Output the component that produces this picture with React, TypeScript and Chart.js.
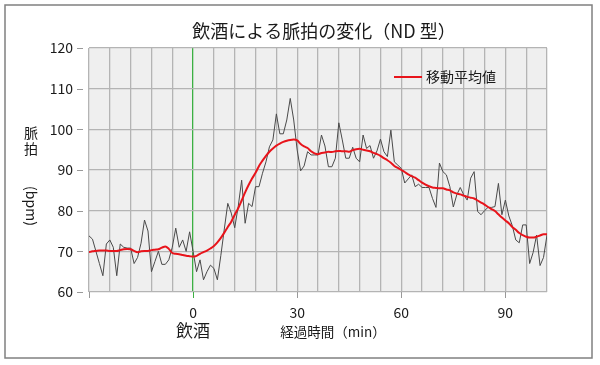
import { useEffect, useRef } from 'react';
import { Chart, registerables } from 'chart.js';

Chart.register(...registerables);

const FONT = '"Noto Sans CJK JP", "Noto Sans", sans-serif';

const TITLE = '飲酒による脈拍の変化（ND 型）';
const X_TITLE = '経過時間（min）';
const X_EVENT = '飲酒';
const Y_TITLE_CHARS = ['脈', '拍'];
const Y_UNIT = '(bpm)';
const LEGEND_LABEL = '移動平均値';

const X_LABELED_TICKS = [0, 30, 60, 90];
const Y_TICKS = [60, 70, 80, 90, 100, 110, 120];

const TIME = [
  -30, -29, -28, -27, -26, -25, -24, -23, -22, -21,
  -20, -19, -18, -17, -16, -15, -14, -13, -12, -11,
  -10, -9, -8, -7, -6, -5, -4, -3, -2, -1,
  0, 1, 2, 3, 4, 5, 6, 7, 8, 9,
  10, 11, 12, 13, 14, 15, 16, 17, 18, 19,
  20, 21, 22, 23, 24, 25, 26, 27, 28, 29,
  30, 31, 32, 33, 34, 35, 36, 37, 38, 39,
  40, 41, 42, 43, 44, 45, 46, 47, 48, 49,
  50, 51, 52, 53, 54, 55, 56, 57, 58, 59,
  60, 61, 62, 63, 64, 65, 66, 67, 68, 69,
  70, 71, 72, 73, 74, 75, 76, 77, 78, 79,
  80, 81, 82, 83, 84, 85, 86, 87, 88, 89,
  90, 91, 92, 93, 94, 95, 96, 97, 98, 99,
  100, 101, 102,
];

const HEART_RATE = [
  73.8, 73, 70, 67, 64, 71.8, 72.8, 71, 64, 71.8,
  71, 70.8, 70.8, 67, 68.5, 72, 77.7, 75, 65, 67.5,
  70, 66.8, 66.8, 67.9, 71, 75.7, 71, 72.8, 70, 74.8,
  70, 65, 67.9, 63, 65, 66.6, 65.8, 63, 69, 75.5,
  81.8, 79.4, 75.8, 81, 87.5, 76.9, 81.8, 81, 85.9, 85.9,
  89.2, 92, 95.7, 97.4, 103.8, 98.9, 98.9, 102.3, 107.6, 102.3,
  94.9, 89.8, 91, 94.5, 93.7, 93.7, 93.7, 98.6, 95.9, 90.8,
  90.8, 92.9, 101.6, 97.4, 92.9, 92.9, 95.6, 92.9, 92, 98.6,
  95.3, 96, 92.9, 94.7, 97.6, 94.5, 93.3, 99.8, 92, 91.2,
  90.4, 86.8, 87.8, 88.8, 85.9, 86.5, 85.7, 85.7, 85.7, 83,
  80.8, 91.7, 89.6, 88.8, 85.9, 80.9, 83.9, 85.7, 83.9, 82.6,
  88, 89.6, 79.8, 79, 80, 80.8, 80.8, 81, 86.7, 79,
  82.6, 78.7, 76.3, 72.8, 72.1, 76.5, 76.5, 67, 69.7, 74,
  66.5, 68.5, 74,
];

const MOVING_AVG = [
  69.8, 70, 70.1, 70.2, 70.2, 70.2, 70.1, 70.1, 70.1, 70.3,
  70.5, 70.6, 70.5, 70.1, 69.8, 70, 70.1, 70.1, 70.3, 70.4,
  70.5, 70.9, 71.2, 70.6, 69.6, 69.4, 69.3, 69.1, 68.9, 68.8,
  68.7, 68.9, 69.4, 69.8, 70.2, 70.7, 71.3, 72.2, 73.3, 74.6,
  76, 77.3, 79, 80.6, 82.5, 84.5, 86.3, 87.9, 89.3, 91,
  92.3, 93.5, 94.5, 95.3, 96, 96.5, 96.9, 97.2, 97.4, 97.5,
  97.3, 96.4, 95.8, 95.4, 94.6, 94.1, 93.9, 94.2, 94.3, 94.5,
  94.4, 94.6, 94.7, 94.6, 94.6, 94.5, 94.9, 95.1, 95.2, 95,
  94.8, 94.6, 94.2, 93.9, 93.5, 92.9, 92.4, 91.8, 91, 90.5,
  90, 89.5, 88.9, 88.5, 88.1, 87.5, 86.9, 86.4, 86, 85.7,
  85.6, 85.5, 85.5, 85.2, 85, 84.5, 84.2, 84, 83.7, 83.4,
  83.2, 83, 82.5, 82, 81.5, 80.9, 80.4, 79.9, 79.1, 78.3,
  77.6, 76.9, 76, 75.3, 74.5, 74, 73.6, 73.4, 73.4, 73.6,
  73.9, 74.2, 74.2,
];

const decorPlugin = {
  id: 'decor',
  beforeDraw(chart: any) {
    const { ctx, chartArea: a, width, height } = chart;
    ctx.save();
    ctx.fillStyle = '#ffffff';
    ctx.fillRect(0, 0, width, height);
    ctx.fillStyle = '#efefef';
    ctx.fillRect(a.left, a.top, a.right - a.left, a.bottom - a.top);
    ctx.restore();
  },
  afterDraw(chart: any) {
    const { ctx, chartArea: a } = chart;
    const xs = chart.scales.x;
    const ys = chart.scales.y;
    ctx.save();
    // y tick marks
    ctx.strokeStyle = '#999999';
    ctx.lineWidth = 1;
    Y_TICKS.forEach((v) => {
      const y = Math.round(ys.getPixelForValue(v)) + 0.5;
      ctx.beginPath();
      ctx.moveTo(a.left - 12, y);
      ctx.lineTo(a.left - 6, y);
      ctx.stroke();
    });
    // x tick marks
    [-30, 30, 60, 90].forEach((v) => {
      const x = Math.round(xs.getPixelForValue(v)) + 0.5;
      ctx.beginPath();
      ctx.moveTo(x, a.bottom);
      ctx.lineTo(x, a.bottom + 6);
      ctx.stroke();
    });
    ctx.strokeStyle = '#3cb043';
    const x0 = Math.round(xs.getPixelForValue(0)) + 0.5;
    ctx.beginPath();
    ctx.moveTo(x0, a.bottom);
    ctx.lineTo(x0, a.bottom + 6);
    ctx.stroke();

    // frame
    ctx.strokeStyle = '#808080';
    ctx.lineWidth = 1.5;
    ctx.strokeRect(5, 5, 587, 353);

    ctx.fillStyle = '#1a1a1a';
    ctx.textBaseline = 'middle';
    // title
    ctx.textAlign = 'center';
    ctx.font = `18px ${FONT}`;
    ctx.fillText(TITLE, (a.left + a.right) / 2 + 6, 31);

    // x labels
    ctx.font = `17px ${FONT}`;
    ctx.fillText(X_EVENT, xs.getPixelForValue(0), 331);
    ctx.font = `13.5px ${FONT}`;
    ctx.fillText(X_TITLE, 333, 332);

    // y labels
    ctx.font = `14px ${FONT}`;
    ctx.fillText(Y_TITLE_CHARS[0], 31, 133);
    ctx.fillText(Y_TITLE_CHARS[1], 31, 149);
    ctx.save();
    ctx.translate(31, 206);
    ctx.rotate(Math.PI / 2);
    ctx.fillText(Y_UNIT, 0, 0);
    ctx.restore();

    // legend
    ctx.strokeStyle = '#e8141b';
    ctx.lineWidth = 2;
    ctx.beginPath();
    ctx.moveTo(394, 77);
    ctx.lineTo(422, 77);
    ctx.stroke();
    ctx.textAlign = 'left';
    ctx.font = `14px ${FONT}`;
    ctx.fillText(LEGEND_LABEL, 426, 77);
    ctx.restore();
  },
};

export default function App() {
  const ref = useRef<HTMLCanvasElement>(null);
  useEffect(() => {
    document.body.style.margin = '0';
    const chart = new Chart(ref.current as HTMLCanvasElement, {
      type: 'line',
      data: {
        datasets: [
          {
            label: LEGEND_LABEL,
            data: TIME.map((t, i) => ({ x: t, y: MOVING_AVG[i] })),
            borderColor: '#e8141b',
            borderWidth: 2,
            pointRadius: 0,
            cubicInterpolationMode: 'monotone',
            fill: false,
          },
          {
            label: '脈拍',
            data: TIME.map((t, i) => ({ x: t, y: HEART_RATE[i] })),
            borderColor: '#4a4a4a',
            borderWidth: 1,
            pointRadius: 0,
            tension: 0,
            fill: false,
          },
        ],
      },
      options: {
        responsive: false,
        animation: false,
        devicePixelRatio: 1,
        layout: { padding: { top: 48, right: 53, left: 0, bottom: 0 } },
        plugins: {
          legend: { display: false },
          title: { display: false },
          tooltip: { enabled: false },
        },
        scales: {
          x: {
            type: 'linear',
            min: -30,
            max: 102,
            ticks: {
              stepSize: 6,
              autoSkip: false,
              maxRotation: 0,
              padding: 12,
              color: '#1a1a1a',
              font: { family: FONT, size: 14 },
              callback: (v: any) => (X_LABELED_TICKS.includes(Math.round(v)) ? String(Math.round(v)) : ''),
            },
            grid: {
              drawTicks: false,
              color: (c: any) => (c.tick && Math.round(c.tick.value) === 0 ? '#3cb043' : '#b4b4b4'),
              lineWidth: 1.3,
            },
            border: { display: false },
            afterFit: (s: any) => {
              s.height = 73;
            },
          },
          y: {
            min: 60,
            max: 120,
            ticks: {
              stepSize: 10,
              padding: 16,
              color: '#1a1a1a',
              font: { family: FONT, size: 14 },
            },
            grid: { drawTicks: false, color: '#b4b4b4', lineWidth: 1.3 },
            border: { display: false },
            afterFit: (s: any) => {
              s.width = 89;
            },
          },
        },
      },
      plugins: [decorPlugin],
    } as any);
    return () => chart.destroy();
  }, []);
  return (
    <canvas
      ref={ref}
      width={600}
      height={365}
      style={{ display: 'block', width: 600, height: 365 }}
    />
  );
}
